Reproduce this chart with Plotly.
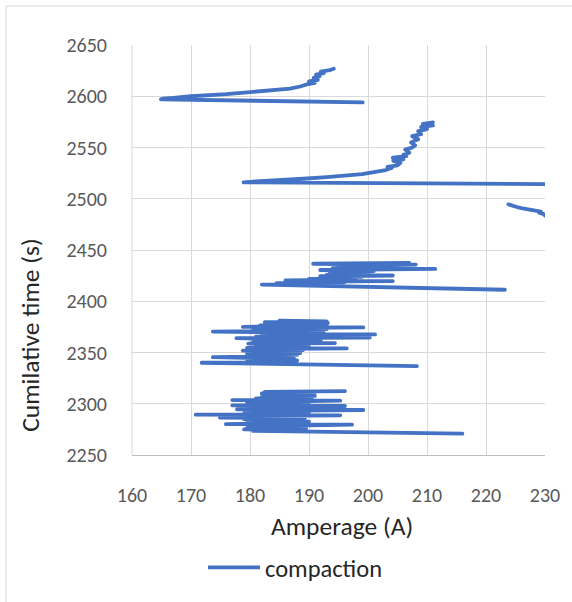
import plotly.graph_objects as go

# Compaction run: welding current (A) against cumulative time (s), one list pair per recorded burst
burst1_time = [2270.8, 2272.8, 2273.5, 2274.3, 2275.0, 2275.8, 2276.5, 2277.2, 2278.0, 2279.6,
               2280.2, 2281.0, 2281.8, 2282.6, 2283.4, 2284.2, 2285.0, 2285.8, 2286.5, 2287.2,
               2288.0, 2288.7, 2289.3, 2290.0, 2290.8, 2291.6, 2292.4, 2293.2, 2293.9, 2294.5,
               2295.3, 2296.1, 2296.9, 2297.8, 2298.4, 2299.2, 2300.0, 2300.8, 2301.6, 2302.4,
               2303.0, 2303.6, 2304.4, 2305.2, 2306.0, 2306.8, 2307.6, 2308.4, 2309.2, 2310.0,
               2310.8, 2311.6, 2312.4]
burst1_amp = [216.0, 187.0, 180.5, 188.5, 179.0, 189.5, 179.5, 188.0, 180.0, 197.3,
              175.9, 188.5, 179.5, 190.0, 180.0, 189.0, 179.0, 189.3, 174.9, 188.0,
              180.0, 195.3, 170.8, 189.0, 179.0, 190.0, 180.0, 188.5, 199.2, 177.8,
              189.0, 179.5, 190.0, 196.1, 177.0, 188.5, 180.0, 190.0, 179.5, 189.0,
              195.3, 177.0, 189.0, 181.0, 190.5, 182.0, 191.0, 183.0, 190.5, 182.0,
              191.0, 182.5, 196.1]

burst2_time = [2336.8, 2338.5, 2340.0, 2340.6, 2341.4, 2342.2, 2343.0, 2343.8, 2344.6, 2345.5,
               2346.2, 2347.0, 2347.8, 2348.6, 2349.4, 2350.2, 2351.0, 2351.8, 2352.4, 2353.2,
               2354.0, 2354.6, 2355.4, 2356.2, 2357.0, 2357.8, 2358.6, 2359.2, 2360.0, 2360.8,
               2361.6, 2362.4, 2363.2, 2364.0, 2364.6, 2365.4, 2366.2, 2367.0, 2367.6, 2368.2,
               2369.0, 2369.8, 2370.4, 2371.2, 2372.0, 2372.8, 2373.6, 2374.5, 2375.0, 2375.8,
               2376.5, 2377.2, 2378.0, 2378.8, 2379.6, 2380.4, 2381.0]
burst2_amp = [208.3, 190.0, 171.8, 187.0, 179.5, 188.0, 180.0, 187.5, 180.0, 173.7,
              187.3, 180.0, 188.0, 179.5, 188.5, 181.0, 188.0, 178.8, 189.0, 180.0,
              196.4, 179.5, 190.0, 181.0, 189.5, 182.0, 179.7, 194.4, 180.5, 191.0,
              181.0, 192.0, 182.0, 177.7, 200.3, 181.0, 192.0, 182.0, 201.2, 182.2,
              192.5, 182.0, 173.7, 191.0, 180.5, 193.0, 181.5, 199.2, 178.8, 192.0,
              181.7, 193.0, 183.0, 193.2, 182.5, 193.0, 185.0]

burst3_time = [2411.2, 2416.3, 2417.0, 2417.7, 2418.4, 2419.1, 2419.7, 2420.3, 2421.0, 2421.7,
               2422.4, 2423.1, 2423.8, 2424.4, 2425.1, 2425.8, 2426.5, 2427.2, 2428.0, 2428.7,
               2429.4, 2430.5, 2431.5, 2432.4, 2433.2, 2434.0, 2434.8, 2435.8, 2436.6, 2437.4]
burst3_amp = [223.2, 182.0, 192.0, 184.5, 196.0, 188.0, 204.2, 186.0, 197.0, 190.0,
              198.0, 192.5, 199.0, 191.9, 204.2, 193.0, 199.5, 194.0, 200.3, 193.5,
              201.0, 191.9, 211.4, 194.0, 205.0, 195.0, 200.0, 208.1, 190.7, 207.0]

burst4_time = [2481.0, 2483.5, 2485.0, 2486.5, 2487.5, 2488.5, 2489.5, 2490.5, 2491.5, 2493.0, 2494.5]
burst4_amp = [233.0, 230.0, 229.8, 229.0, 229.3, 228.0, 227.0, 226.2, 225.5, 224.8, 223.8]

burst5_time = [2513.8, 2516.0, 2517.0, 2518.0, 2519.5, 2521.0, 2522.5, 2524.0, 2526.0, 2528.0,
               2530.0, 2531.0, 2532.5, 2535.0, 2537.0, 2538.5, 2540.0, 2541.5, 2543.0, 2545.0,
               2548.0, 2550.0, 2552.0, 2555.0, 2558.0, 2561.0, 2563.0, 2566.0, 2568.0, 2570.0,
               2571.5, 2573.0, 2574.5]
burst5_amp = [245.0, 178.9, 181.0, 185.0, 189.0, 193.0, 196.5, 199.0, 201.0, 203.0,
              204.0, 203.3, 205.0, 205.5, 204.3, 206.0, 204.2, 206.5, 206.0, 207.0,
              206.3, 207.5, 208.0, 207.3, 208.5, 207.5, 209.0, 208.5, 210.0, 209.0,
              211.0, 209.3, 211.0]

burst6_time = [2594.0, 2597.0, 2597.6, 2598.5, 2600.0, 2602.0, 2604.2, 2606.0, 2607.5, 2609.5,
               2611.5, 2613.0, 2614.5, 2616.0, 2618.0, 2619.5, 2621.0, 2622.5, 2624.0, 2625.5,
               2626.8]
burst6_amp = [199.1, 164.9, 165.2, 167.0, 170.0, 176.0, 181.1, 184.5, 186.8, 188.5,
              189.6, 191.0, 190.0, 191.5, 190.8, 191.8, 191.2, 192.5, 192.0, 193.5,
              194.2]

x_ticks = [160, 170, 180, 190, 200, 210, 220, 230]
y_ticks = [2250, 2300, 2350, 2400, 2450, 2500, 2550, 2600, 2650]

bursts = [
    (burst1_amp, burst1_time), (burst2_amp, burst2_time), (burst3_amp, burst3_time),
    (burst4_amp, burst4_time), (burst5_amp, burst5_time), (burst6_amp, burst6_time),
]

# join the bursts into one series, with breaks where no samples were logged
amps, times = [], []
for a, t in bursts:
    if amps:
        amps.append(None)
        times.append(None)
    amps.extend(a)
    times.extend(t)

FONT = "Calibri, Carlito, Lato, sans-serif"
W, H = 572, 602
L, R, T, B = 132, 27, 45, 141
pw, ph = W - L - R, H - T - B


def px_x(p):
    return (p - L) / pw


def px_y(p):
    return (H - B - p) / ph


fig = go.Figure()
fig.add_trace(go.Scatter(
    x=amps, y=times, mode="lines", name="compaction",
    line=dict(color="#4472C4", width=3.8), connectgaps=False,
    showlegend=True,
))

fig.update_layout(
    width=W, height=H,
    margin=dict(l=L, r=R, t=T, b=B),
    paper_bgcolor="white", plot_bgcolor="white",
    font=dict(family=FONT, color="#595959"),
    showlegend=True,
    legend=dict(
        orientation="h", x=px_x(203), y=px_y(575), xanchor="left", yanchor="middle",
        font=dict(family=FONT, size=24.5, color="#262626"),
        itemwidth=52, bgcolor="rgba(0,0,0,0)",
    ),
    xaxis=dict(
        range=[160, 230], tickvals=x_ticks, showgrid=True, gridcolor="#d9d9d9", gridwidth=1,
        zeroline=False, showline=True, linecolor="#bfbfbf", linewidth=1,
        ticks="outside", ticklen=22, tickcolor="rgba(0,0,0,0)",
        tickfont=dict(family=FONT, size=20, color="#595959"),
    ),
    yaxis=dict(
        range=[2250, 2650], tickvals=y_ticks, showgrid=True, gridcolor="#d9d9d9", gridwidth=1,
        zeroline=False, showline=False,
        ticks="outside", ticklen=20, tickcolor="rgba(0,0,0,0)",
        tickfont=dict(family=FONT, size=20, color="#595959"),
    ),
    shapes=[
        # chart-area frame
        dict(type="rect", xref="paper", yref="paper",
             x0=px_x(6), x1=px_x(800), y0=px_y(900), y1=px_y(5.5),
             line=dict(color="#d9d9d9", width=1), fillcolor="rgba(0,0,0,0)", layer="below"),
        # left edge of the plot area
        dict(type="line", xref="paper", yref="paper", x0=0, x1=0, y0=0, y1=1,
             line=dict(color="#d9d9d9", width=1), layer="below"),
    ],
    annotations=[
        dict(text="Amperage (A)", xref="paper", yref="paper", x=px_x(342), y=px_y(534),
             xanchor="center", yanchor="middle", showarrow=False,
             font=dict(family=FONT, size=25.5, color="#262626")),
        dict(text="Cumilative time (s)", xref="paper", yref="paper", x=px_x(31), y=px_y(340),
             xanchor="center", yanchor="middle", showarrow=False, textangle=-90,
             font=dict(family=FONT, size=25.5, color="#262626")),
    ],
)

round_joins = (
    "document.querySelectorAll('.scatterlayer .js-line').forEach(function(p){"
    "p.style.strokeLinejoin='round';p.style.strokeLinecap='round';});"
)
fig.write_html("out.html", post_script=round_joins)
